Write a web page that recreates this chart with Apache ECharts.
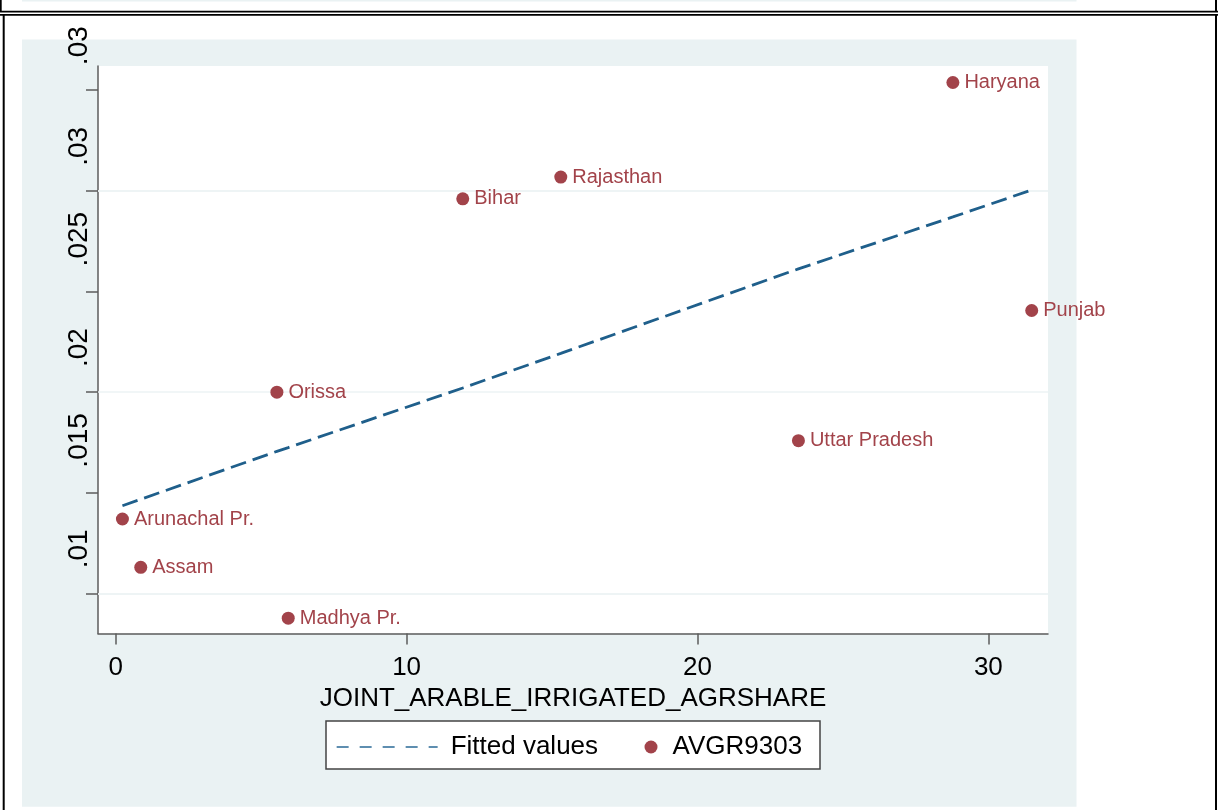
<!DOCTYPE html>
<html>
<head>
<meta charset="utf-8">
<script src="https://cdn.jsdelivr.net/npm/echarts@6/dist/echarts.min.js"></script>
<style>
  html, body { margin: 0; padding: 0; background: #ffffff; }
  #chart { width: 1218px; height: 810px; }
</style>
</head>
<body>
<div id="chart"></div>
<script>
// Average growth 1993-2003 vs. joint arable irrigated agricultural share, by state
const states = ['Arunachal Pr.', 'Assam', 'Orissa', 'Madhya Pr.', 'Bihar', 'Rajasthan', 'Uttar Pradesh', 'Haryana', 'Punjab'];
const irrigShare = [0.23, 0.86, 5.54, 5.93, 11.93, 15.30, 23.47, 28.78, 31.49];
const avgr9303 = [0.01369, 0.01129, 0.01999, 0.00876, 0.02960, 0.03068, 0.01758, 0.03538, 0.02405];
const fittedValues = [0.01435, 0.01467, 0.01705, 0.01724, 0.02020, 0.02192, 0.02612, 0.02870, 0.03004];

const xTicks = [0, 10, 20, 30];
const yTicks = [0.01, 0.015, 0.02, 0.025, 0.03, 0.035];
const yTickLabels = ['.01', '.015', '.02', '.025', '.03', '.03'];

const FONT = "'Liberation Sans', Arial, Helvetica, sans-serif";
const RED = '#a2434a';
const BLUE = '#1f5f8b';
const BG = '#eaf2f3';
const AXIS = '#5c5c5c';
const GRIDLINE = '#edf3f4';

const scatterData = irrigShare.map((x, i) => [x, avgr9303[i], states[i]]);
const fitData = irrigShare.map((x, i) => [x, fittedValues[i]]);

function yLabel(v) {
  for (let i = 0; i < yTicks.length; i++) {
    if (Math.abs(yTicks[i] - v) < 1e-9) return yTickLabels[i];
  }
  return '';
}

const chart = echarts.init(document.getElementById('chart'), null, { renderer: 'canvas' });

chart.setOption({
  backgroundColor: '#ffffff',
  animation: false,
  textStyle: { fontFamily: FONT },
  graphic: [
    // light graph region
    { type: 'rect', z: -10, silent: true, shape: { x: 22, y: 39.5, width: 1054.5, height: 767.2 }, style: { fill: BG } },
    { type: 'rect', z: -10, silent: true, shape: { x: 22, y: 0, width: 1054.5, height: 1.5 }, style: { fill: BG } },
    // page frame
    { type: 'rect', silent: true, shape: { x: 0, y: 10.8, width: 1218, height: 1.6 }, style: { fill: '#000' } },
    { type: 'rect', silent: true, shape: { x: 0, y: 14, width: 1218, height: 1.7 }, style: { fill: '#000' } },
    { type: 'rect', silent: true, shape: { x: 0, y: 0, width: 1.7, height: 12 }, style: { fill: '#000' } },
    { type: 'rect', silent: true, shape: { x: 1215, y: 0, width: 2, height: 12 }, style: { fill: '#000' } },
    { type: 'rect', silent: true, shape: { x: 2.7, y: 14, width: 2, height: 796 }, style: { fill: '#000' } },
    { type: 'rect', silent: true, shape: { x: 1215, y: 14, width: 2, height: 796 }, style: { fill: '#000' } },
    // legend frame
    { type: 'rect', silent: true, shape: { x: 326, y: 721, width: 494, height: 48 }, style: { fill: '#ffffff', stroke: '#444', lineWidth: 1.5 } }
  ],
  grid: {
    left: 98, top: 66, width: 950, height: 567.5,
    show: true, backgroundColor: '#ffffff', borderWidth: 0,
    containLabel: false, outerBoundsMode: 'none'
  },
  xAxis: {
    type: 'value',
    min: -0.61, max: 32.05,
    name: 'JOINT_ARABLE_IRRIGATED_AGRSHARE',
    nameLocation: 'middle',
    nameGap: 50,
    nameTextStyle: { fontSize: 26, color: '#000', fontFamily: FONT },
    axisLine: { show: true, onZero: false, lineStyle: { color: AXIS, width: 1.5 } },
    axisTick: { show: true, customValues: xTicks, length: 11, lineStyle: { color: AXIS, width: 1.5 } },
    axisLabel: { customValues: xTicks, fontSize: 26, color: '#000', margin: 21, fontFamily: FONT },
    splitLine: { show: false }
  },
  yAxis: {
    type: 'value',
    min: 0.008, max: 0.0362,
    axisLine: { show: true, onZero: false, lineStyle: { color: AXIS, width: 1.5 } },
    axisTick: { show: true, customValues: yTicks, length: 12, lineStyle: { color: AXIS, width: 1.5 } },
    axisLabel: {
      customValues: yTicks,
      formatter: yLabel,
      rotate: 90,
      align: 'left',
      padding: [0, 0, 0, 25],
      margin: 5,
      fontSize: 28,
      color: '#000',
      fontFamily: FONT
    },
    splitLine: { show: false }
  },
  legend: [
    {
      data: [{ name: 'Fitted values', itemStyle: { opacity: 0 } }],
      left: 336, top: 734, padding: 0,
      itemWidth: 101, itemHeight: 14,
      lineStyle: { width: 1.3, color: '#2a6a96', type: [12, 11], opacity: 1 },
      textStyle: { fontSize: 26, color: '#000', fontFamily: FONT, padding: [0, 0, 0, 8] },
      selectedMode: false
    },
    {
      data: [{ name: 'AVGR9303', icon: 'circle', itemStyle: { opacity: 1 } }],
      left: 644.5, top: 734, padding: 0,
      itemWidth: 13, itemHeight: 13,
      textStyle: { fontSize: 26, color: '#000', fontFamily: FONT, padding: [0, 0, 0, 10] },
      selectedMode: false
    }
  ],
  series: [
    {
      name: 'Fitted values',
      type: 'line',
      data: fitData,
      symbol: 'none',
      z: 2,
      lineStyle: { color: BLUE, width: 2.8, type: [16, 7] },
      itemStyle: { color: BLUE },
      markLine: {
        silent: true,
        z: 1,
        symbol: ['none', 'none'],
        label: { show: false },
        animation: false,
        lineStyle: { color: GRIDLINE, width: 1.5, type: 'solid' },
        data: yTicks.map(v => ({ yAxis: v }))
      }
    },
    {
      name: 'AVGR9303',
      type: 'scatter',
      data: scatterData,
      symbol: 'circle',
      symbolSize: 13,
      z: 3,
      itemStyle: { color: RED, opacity: 1 },
      label: {
        show: true,
        position: 'right',
        distance: 5,
        formatter: p => p.data[2],
        fontSize: 20,
        color: RED,
        fontFamily: FONT
      }
    }
  ]
});
</script>
</body>
</html>
